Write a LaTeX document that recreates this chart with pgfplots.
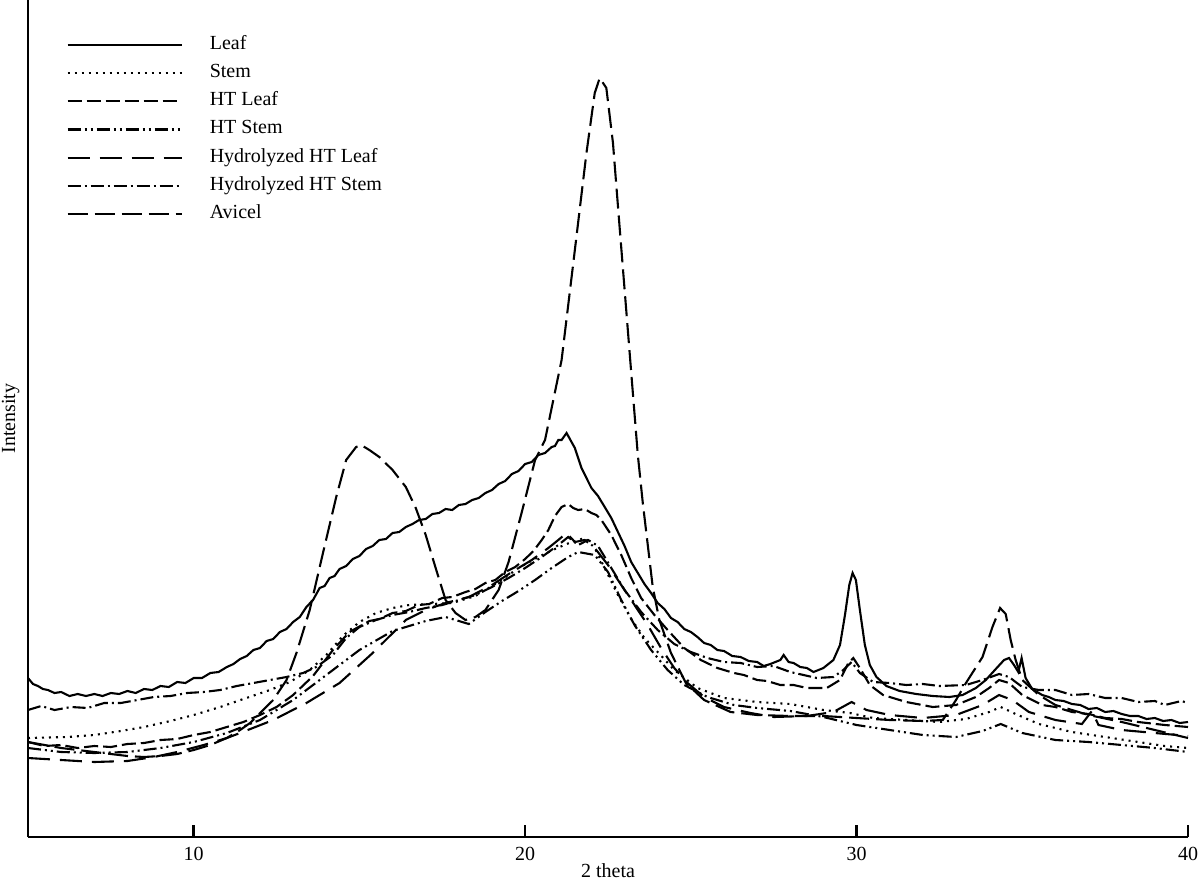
\documentclass[border=0pt]{standalone}
\usepackage{pgfplots}
\pgfplotsset{compat=1.18}
\usepackage{fontspec}
\setmainfont{Liberation Serif}
\begin{document}
\fontsize{10}{12}\selectfont
\begin{tikzpicture}
\begin{axis}[
  scale only axis, width=580pt, height=418.5pt,
  xmin=5, xmax=40, ymin=-837, ymax=0,
  axis x line=bottom, axis y line=left,
  axis line style={-, line width=1.3pt},
  xtick={10,20,30,40}, ytick=\empty,
  tick align=inside, major tick length=6pt,
  xtick style={line width=1.3pt, black},
  /pgf/number format/assume math mode=true,
  ticklabel style={font=\fontsize{10}{12}\selectfont},
  xticklabel style={yshift=-1.5pt},
  xlabel={2 theta}, ylabel={Intensity},
  xlabel style={at={(axis description cs:0.5,0)}, anchor=north, yshift=-10pt},
  ylabel style={at={(axis description cs:-0.007,0.5)}, anchor=south, inner sep=0pt},
  legend cell align=left,
  legend image code/.code={\draw[#1] (0pt,0pt) -- (57pt,0pt);},
  legend style={draw=none, fill=none, inner sep=0pt, at={(axis description cs:0.033,0.963)}, anchor=north west,
    nodes={inner sep=2pt, text height=7pt, text depth=2.5pt, font=\fontsize{10}{12}\selectfont},
    row sep=0.6pt, /tikz/every odd column/.append style={column sep=11.5pt}},
  every axis plot/.append style={line width=1.05pt, black},
]
\addplot[solid] coordinates {(5.0,-678)(5.15,-684)(5.3,-686)(5.45,-689)(5.6,-690)(5.8,-693)(6.0,-692)(6.25,-696)(6.5,-694)(6.75,-696)(7.0,-694)(7.25,-696)(7.5,-693)(7.75,-694)(8.0,-691)(8.25,-693)(8.5,-689)(8.75,-690)(9.0,-686)(9.25,-687)(9.5,-682)(9.75,-683)(10.0,-678)(10.25,-678)(10.5,-673)(10.75,-672)(11.0,-667)(11.2,-664)(11.4,-659)(11.6,-656)(11.8,-650)(12.0,-648)(12.2,-641)(12.4,-639)(12.6,-632)(12.8,-629)(13.0,-622)(13.2,-617)(13.4,-607)(13.6,-600)(13.8,-588)(13.95,-586)(14.1,-578)(14.25,-576)(14.4,-569)(14.6,-566)(14.8,-559)(15.0,-556)(15.2,-549)(15.4,-546)(15.6,-540)(15.8,-539)(16.0,-533)(16.2,-532)(16.4,-527)(16.6,-524)(16.8,-520)(17.0,-519)(17.2,-514)(17.4,-513)(17.6,-509)(17.8,-510)(18.0,-505)(18.2,-504)(18.4,-500)(18.6,-498)(18.8,-493)(19.0,-490)(19.2,-484)(19.4,-481)(19.6,-474)(19.8,-471)(20.0,-464)(20.2,-462)(20.4,-455)(20.6,-453)(20.8,-447)(20.9,-446)(21.0,-440)(21.1,-440)(21.25,-433)(21.5,-448)(21.7,-468)(22.0,-488)(22.2,-496)(22.4,-507)(22.6,-518)(22.8,-532)(23.0,-546)(23.2,-562)(23.4,-573)(23.6,-584)(23.8,-593)(24.0,-603)(24.2,-609)(24.4,-618)(24.6,-622)(24.8,-629)(25.0,-632)(25.2,-637)(25.4,-643)(25.6,-645)(25.8,-650)(26.0,-651)(26.25,-656)(26.5,-657)(26.75,-661)(27.0,-662)(27.2,-666)(27.4,-664)(27.7,-660)(27.8,-655)(27.95,-662)(28.1,-663)(28.3,-667)(28.5,-668)(28.7,-672)(29.0,-668)(29.3,-660)(29.5,-645)(29.65,-615)(29.78,-585)(29.88,-573)(29.98,-580)(30.1,-610)(30.25,-645)(30.4,-665)(30.6,-677)(30.9,-686)(31.3,-691)(31.8,-694)(32.3,-696)(32.8,-697)(33.2,-695)(33.6,-688)(33.9,-680)(34.2,-669)(34.45,-660)(34.6,-658)(34.75,-665)(34.88,-672)(34.98,-658)(35.1,-678)(35.3,-689)(35.6,-695)(35.8,-697)(36.0,-700)(36.25,-701)(36.5,-704)(36.75,-705)(37.0,-709)(37.25,-708)(37.5,-712)(37.75,-711)(38.0,-714)(38.25,-716)(38.5,-716)(38.75,-719)(39.0,-718)(39.25,-721)(39.5,-720)(39.75,-723)(40.0,-722)};
\addlegendentry{Leaf}
\addplot[dash pattern=on 1pt off 2.5pt] coordinates {(5.0,-738)(6.2,-737)(7.0,-735)(7.8,-731)(8.5,-727)(9.3,-721)(10.0,-715)(10.8,-707)(11.5,-699)(12.3,-690)(12.9,-682)(13.5,-670)(14.0,-655)(14.5,-636)(15.0,-622)(15.5,-613)(16.0,-608)(16.5,-605)(17.2,-604)(17.8,-603)(18.5,-596)(19.2,-582)(19.8,-568)(20.4,-557)(20.9,-549)(21.4,-542)(21.8,-538)(22.1,-548)(22.4,-568)(22.8,-595)(23.2,-619)(23.6,-638)(24.0,-652)(24.5,-670)(25.2,-688)(26.0,-698)(27.0,-702)(28.0,-704)(29.0,-710)(29.8,-713)(30.5,-718)(31.5,-720)(32.5,-722)(33.3,-719)(34.0,-712)(34.35,-707)(34.8,-714)(35.5,-724)(36.5,-732)(37.5,-737)(38.5,-742)(39.3,-746)(40.0,-748)};
\addlegendentry{Stem}
\addplot[dash pattern=on 7pt off 2.5pt] coordinates {(5.0,-742)(5.5,-746)(6.0,-745)(6.5,-748)(7.0,-746)(7.5,-747)(8.0,-744)(8.5,-743)(9.0,-740)(9.5,-739)(10.0,-735)(10.5,-732)(11.0,-727)(11.5,-722)(12.0,-715)(12.5,-707)(13.0,-695)(13.6,-676)(14.2,-650)(14.7,-632)(15.3,-621)(15.6,-619)(16.0,-613)(16.4,-611)(16.8,-605)(17.1,-604)(17.5,-598)(17.8,-597)(18.2,-592)(18.5,-589)(18.8,-583)(19.1,-580)(19.4,-572)(19.7,-567)(20.0,-559)(20.25,-551)(20.5,-540)(20.7,-530)(20.9,-516)(21.1,-507)(21.3,-504)(21.45,-508)(21.6,-510)(21.8,-509)(22.0,-513)(22.15,-515)(22.3,-520)(22.6,-535)(22.9,-555)(23.2,-578)(23.5,-598)(23.9,-615)(24.3,-630)(24.8,-648)(25.3,-660)(25.8,-668)(26.3,-673)(26.6,-675)(27.0,-680)(27.3,-681)(27.7,-685)(28.1,-685)(28.5,-688)(29.1,-688)(29.5,-680)(29.75,-663)(29.9,-658)(30.1,-668)(30.4,-685)(30.8,-695)(31.5,-702)(32.3,-707)(33.0,-705)(33.6,-697)(34.0,-688)(34.3,-680)(34.6,-683)(35.0,-695)(35.6,-705)(36.0,-707)(36.5,-712)(37.0,-714)(37.5,-718)(38.0,-719)(38.5,-722)(39.3,-725)(40.0,-727)};
\addlegendentry{HT Leaf}
\addplot[dash pattern=on 6.5pt off 2pt on 1pt off 2pt on 1pt off 2pt] coordinates {(5.0,-748)(6.0,-752)(7.0,-753)(8.0,-752)(9.0,-748)(10.0,-742)(11.0,-733)(12.0,-720)(13.0,-700)(14.0,-675)(15.0,-650)(16.0,-631)(17.0,-621)(17.6,-617)(18.0,-621)(18.3,-624)(18.8,-612)(19.3,-601)(19.8,-591)(20.3,-580)(20.8,-568)(21.3,-557)(21.6,-552)(22.1,-555)(22.5,-572)(22.9,-600)(23.3,-625)(23.8,-650)(24.3,-670)(24.8,-685)(25.5,-697)(26.3,-705)(27.0,-708)(28.0,-711)(29.0,-717)(30.0,-725)(31.0,-730)(32.0,-735)(33.0,-737)(33.8,-731)(34.35,-724)(35.0,-733)(36.0,-740)(37.0,-742)(38.0,-745)(39.0,-748)(40.0,-752)};
\addlegendentry{HT Stem}
\addplot[dash pattern=on 11pt off 5pt] coordinates {(5.0,-758)(6.0,-760)(7.0,-762)(8.0,-761)(8.8,-757)(9.5,-752)(10.3,-745)(11.0,-738)(11.4,-733)(12.4,-720)(13.4,-703)(14.4,-683)(15.4,-653)(16.4,-620)(17.0,-610)(17.6,-603)(18.3,-597)(19.0,-585)(19.6,-572)(20.2,-560)(20.7,-548)(21.0,-540)(21.25,-533)(21.5,-542)(21.8,-540)(22.1,-548)(22.5,-565)(22.9,-585)(23.3,-605)(23.7,-625)(24.1,-648)(24.5,-668)(24.9,-683)(25.4,-697)(26.0,-707)(26.8,-713)(27.5,-717)(28.5,-716)(29.3,-712)(29.85,-702)(30.3,-710)(31.0,-715)(32.0,-718)(33.0,-715)(33.8,-705)(34.3,-695)(34.7,-700)(35.2,-712)(36.0,-720)(36.8,-724)(37.1,-711)(37.3,-725)(38.0,-730)(39.0,-733)(40.0,-736)};
\addlegendentry{Hydrolyzed HT Leaf}
\addplot[dash pattern=on 6.5pt off 2pt on 1pt off 2pt] coordinates {(5.0,-710)(5.4,-706)(5.8,-710)(6.3,-707)(6.8,-708)(7.3,-703)(7.8,-703)(8.3,-700)(8.8,-697)(9.3,-696)(9.8,-693)(10.3,-692)(10.8,-690)(11.3,-686)(11.8,-683)(12.3,-680)(12.8,-677)(13.3,-673)(13.7,-667)(14.2,-655)(14.6,-638)(15.0,-627)(15.5,-620)(16.0,-615)(16.5,-612)(17.0,-608)(17.5,-605)(18.0,-600)(18.5,-595)(19.0,-587)(19.5,-578)(20.0,-568)(20.5,-557)(21.0,-545)(21.3,-537)(21.6,-545)(21.9,-540)(22.2,-546)(22.6,-568)(23.0,-590)(23.5,-612)(24.0,-630)(24.5,-644)(25.0,-652)(25.5,-658)(26.0,-662)(26.5,-663)(27.0,-667)(27.5,-666)(28.0,-672)(28.8,-678)(29.3,-677)(29.6,-670)(29.85,-662)(30.1,-673)(30.5,-682)(31.0,-683)(31.5,-685)(32.0,-684)(32.5,-686)(33.3,-685)(33.8,-680)(34.3,-674)(34.6,-677)(35.0,-687)(35.5,-690)(36.0,-690)(36.5,-695)(37.0,-694)(37.5,-698)(38.0,-698)(38.5,-702)(39.0,-701)(39.3,-705)(39.8,-701)(40.0,-703)};
\addlegendentry{Hydrolyzed HT Stem}
\addplot[dash pattern=on 10pt off 3.5pt] coordinates {(5.0,-742)(5.5,-745)(6.0,-748)(6.5,-750)(7.0,-752)(7.5,-754)(8.0,-756)(8.5,-757)(9.0,-756)(9.5,-754)(10.0,-750)(10.5,-745)(11.0,-738)(11.4,-730)(11.7,-723)(12.0,-713)(12.4,-700)(12.8,-680)(13.1,-653)(13.5,-610)(13.9,-553)(14.3,-497)(14.6,-460)(14.9,-447)(15.05,-445)(15.3,-450)(15.6,-457)(16.0,-470)(16.4,-487)(16.7,-508)(17.0,-535)(17.3,-568)(17.6,-600)(17.9,-613)(18.2,-620)(18.5,-617)(18.8,-610)(19.2,-590)(19.5,-562)(19.9,-512)(20.3,-460)(20.6,-440)(21.1,-360)(21.5,-250)(21.85,-153)(22.1,-93)(22.25,-78)(22.45,-88)(22.65,-143)(22.85,-227)(23.05,-310)(23.25,-393)(23.4,-455)(23.55,-503)(23.85,-587)(24.05,-620)(24.4,-653)(24.85,-683)(25.4,-700)(26.2,-712)(27.0,-715)(28.0,-716)(29.0,-716)(30.0,-718)(31.0,-720)(32.0,-721)(32.6,-720)(33.0,-700)(33.3,-683)(33.8,-657)(34.1,-627)(34.33,-608)(34.5,-614)(34.65,-640)(34.8,-660)(35.0,-680)(35.5,-695)(36.0,-705)(37.0,-715)(38.0,-722)(39.0,-730)(40.0,-738)};
\addlegendentry{Avicel}
\end{axis}
\pgfresetboundingbox
\path[use as bounding box] (current axis.south west) ++(-14pt,-21.5pt) rectangle ++(600pt,440pt);
\end{tikzpicture}
\end{document}
